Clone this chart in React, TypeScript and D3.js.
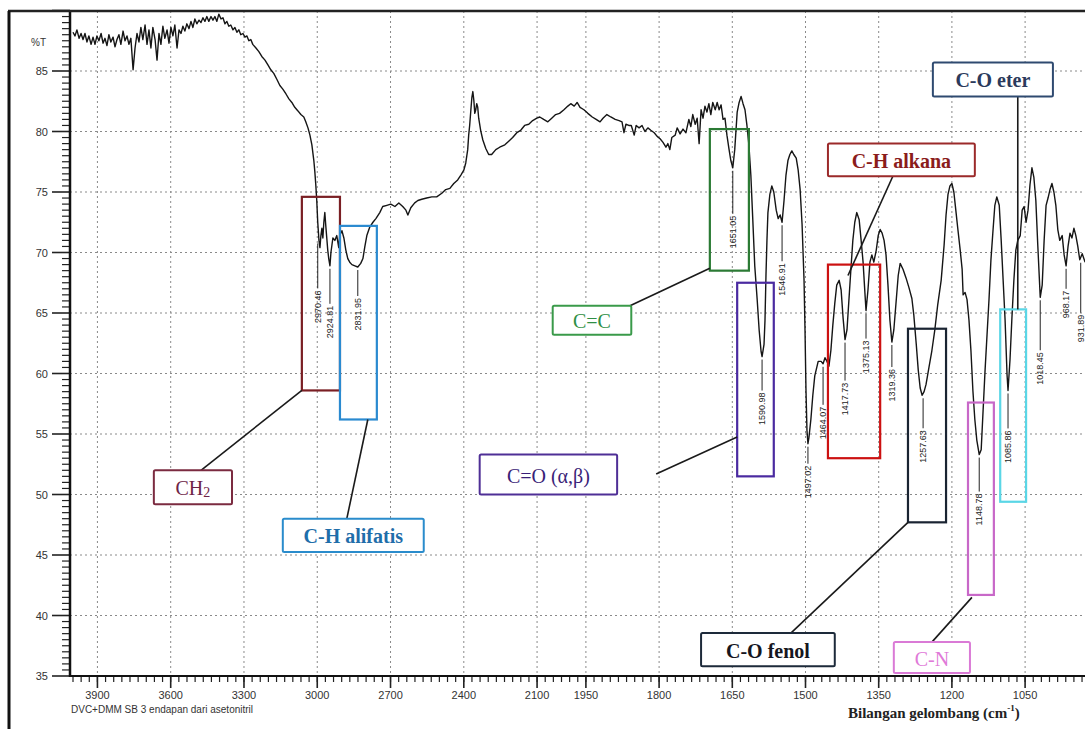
import React, { useEffect, useRef } from 'react';
import * as d3 from 'd3';

// spectrum (cm-1, %T)
const wavenumber = [
  4000, 3992, 3984, 3975, 3967, 3959, 3951, 3943, 3935, 3926, 3918, 3910, 3902, 3894, 3885, 3877, 3869, 3861, 3853, 3845,
  3836, 3828, 3820, 3812, 3804, 3795, 3787, 3779, 3771, 3763, 3754, 3746, 3738, 3730, 3722, 3714, 3705, 3697, 3689, 3681,
  3673, 3664, 3656, 3648, 3640, 3632, 3624, 3615, 3607, 3599, 3591, 3583, 3574, 3566, 3558, 3550, 3542, 3534, 3525, 3517,
  3509, 3501, 3493, 3484, 3476, 3468, 3460, 3452, 3444, 3435, 3427, 3419, 3411, 3403, 3394, 3386, 3378, 3370, 3362, 3354,
  3345, 3337, 3329, 3321, 3313, 3304, 3296, 3288, 3280, 3272, 3264, 3251, 3239, 3227, 3214, 3202, 3190, 3178, 3165, 3153,
  3141, 3128, 3116, 3104, 3092, 3079, 3067, 3055, 3047, 3038, 3030, 3022, 3014, 3010, 3006, 3002, 2998, 2993, 2989, 2985,
  2981, 2977, 2973, 2969, 2965, 2961, 2957, 2953, 2948, 2944, 2940, 2936, 2928, 2920, 2912, 2908, 2899, 2891, 2883, 2875,
  2867, 2858, 2846, 2834, 2822, 2813, 2805, 2797, 2785, 2772, 2760, 2744, 2732, 2715, 2699, 2682, 2666, 2650, 2637, 2629,
  2617, 2601, 2588, 2572, 2552, 2531, 2511, 2490, 2474, 2457, 2441, 2425, 2412, 2400, 2392, 2384, 2380, 2376, 2371, 2367,
  2363, 2359, 2355, 2351, 2347, 2343, 2339, 2331, 2322, 2310, 2298, 2286, 2269, 2253, 2232, 2216, 2200, 2183, 2167, 2151,
  2134, 2118, 2101, 2089, 2073, 2056, 2040, 2024, 2008, 1995, 1987, 1981, 1974, 1968, 1962, 1954, 1946, 1937, 1929, 1921,
  1915, 1907, 1899, 1890, 1882, 1876, 1872, 1868, 1862, 1857, 1851, 1847, 1841, 1835, 1829, 1823, 1817, 1810, 1804, 1798,
  1792, 1786, 1782, 1778, 1774, 1767, 1763, 1757, 1751, 1745, 1739, 1735, 1731, 1726, 1722, 1718, 1714, 1710, 1706, 1702,
  1698, 1694, 1690, 1685, 1681, 1677, 1673, 1669, 1665, 1661, 1657, 1653, 1649, 1645, 1640, 1636, 1632, 1628, 1624, 1620,
  1616, 1612, 1608, 1604, 1599, 1595, 1591, 1589, 1585, 1583, 1581, 1579, 1577, 1573, 1569, 1565, 1560, 1556, 1552, 1548,
  1544, 1540, 1536, 1532, 1528, 1524, 1519, 1515, 1511, 1507, 1503, 1501, 1499, 1497, 1495, 1493, 1489, 1485, 1481, 1474,
  1468, 1464, 1460, 1456, 1452, 1448, 1444, 1440, 1436, 1431, 1427, 1423, 1419, 1415, 1411, 1407, 1403, 1399, 1395, 1390,
  1386, 1382, 1378, 1376, 1372, 1368, 1364, 1360, 1355, 1351, 1347, 1343, 1339, 1335, 1331, 1327, 1323, 1319, 1314, 1310,
  1306, 1300, 1294, 1288, 1282, 1278, 1273, 1269, 1265, 1261, 1257, 1253, 1247, 1241, 1235, 1229, 1222, 1216, 1212, 1208,
  1204, 1200, 1196, 1192, 1188, 1183, 1179, 1177, 1173, 1169, 1165, 1161, 1157, 1153, 1149, 1144, 1140, 1136, 1132, 1128,
  1124, 1120, 1116, 1112, 1108, 1103, 1099, 1095, 1091, 1087, 1085, 1081, 1077, 1073, 1069, 1065, 1060, 1056, 1052, 1048,
  1044, 1040, 1036, 1032, 1028, 1024, 1019, 1015, 1011, 1007, 1003, 999, 995, 991, 987, 983, 979, 974, 970, 966,
  962, 958, 954, 950, 946, 942, 938, 933, 927,
];

const transmittance = [
  88.2, 87.9, 88.4, 87.7, 88.1, 87.6, 88.1, 87.4, 87.9, 87.2, 87.8, 87.2, 87.9, 87.5, 88.1, 87.3, 87.7, 87.1, 88.0, 87.4,
  87.8, 87.0, 87.6, 88.0, 87.2, 88.3, 87.5, 87.9, 87.2, 87.7, 85.1, 86.9, 88.1, 87.4, 88.6, 87.6, 88.8, 87.2, 88.4, 86.9,
  88.6, 87.6, 85.9, 88.1, 87.2, 88.7, 87.7, 88.4, 87.3, 88.6, 87.9, 88.8, 86.9, 88.4, 88.1, 88.7, 88.3, 88.9, 88.5, 89.1,
  88.6, 89.3, 88.9, 89.2, 89.0, 89.4, 89.1, 89.5, 89.1, 89.5, 89.2, 89.5, 89.1, 89.7, 89.3, 89.4, 88.9, 89.1, 88.7, 88.8,
  88.4, 88.6, 88.2, 88.4, 88.0, 88.1, 87.8, 87.9, 87.5, 87.6, 87.2, 86.9, 86.6, 86.2, 85.9, 85.5, 85.1, 84.8, 84.3, 83.8,
  83.5, 83.1, 82.7, 82.4, 82.0, 81.7, 81.4, 81.2, 80.8, 80.3, 79.7, 78.9, 77.6, 76.7, 75.6, 74.3, 72.5, 71.0, 70.4, 71.4,
  72.0, 71.2, 72.5, 73.3, 72.2, 71.2, 70.2, 69.5, 68.9, 70.0, 70.6, 71.2, 71.0, 71.4, 70.4, 71.4, 71.8, 71.2, 70.2, 69.5,
  69.2, 69.0, 68.9, 68.8, 69.1, 69.5, 70.5, 71.4, 72.1, 72.5, 72.8, 73.3, 73.8, 73.9, 74.0, 73.8, 74.1, 73.8, 73.5, 73.1,
  73.7, 74.1, 74.3, 74.4, 74.5, 74.6, 74.6, 74.9, 75.2, 75.3, 75.7, 76.0, 76.4, 76.8, 77.4, 78.5, 79.7, 80.5, 81.8, 82.8,
  83.3, 82.6, 81.5, 81.8, 82.3, 82.0, 81.1, 80.1, 79.3, 78.6, 78.1, 78.1, 78.5, 78.7, 78.9, 79.2, 79.5, 79.9, 80.1, 80.5,
  80.6, 80.9, 81.1, 81.2, 81.0, 80.8, 81.1, 81.4, 81.5, 81.8, 82.1, 82.3, 82.1, 82.4, 82.0, 81.8, 81.5, 81.2, 81.0, 80.8,
  81.1, 81.4, 81.2, 81.0, 80.9, 80.8, 79.9, 80.6, 80.5, 80.5, 79.7, 80.5, 80.3, 80.5, 80.0, 80.3, 80.1, 79.9, 79.6, 79.4,
  79.1, 78.7, 79.0, 78.5, 79.5, 79.7, 80.3, 79.8, 80.2, 79.9, 81.0, 80.4, 81.4, 80.6, 81.1, 79.0, 81.8, 81.1, 82.1, 81.6,
  82.3, 81.4, 82.4, 81.8, 82.4, 81.8, 82.2, 81.0, 81.1, 79.7, 78.6, 77.6, 77.0, 78.5, 81.6, 82.4, 82.9, 82.3, 81.8, 80.5,
  78.9, 76.4, 72.7, 68.9, 66.1, 63.6, 61.8, 61.4, 62.4, 64.4, 68.1, 71.0, 73.3, 74.8, 75.5, 75.0, 73.5, 72.8, 73.1, 72.5,
  74.3, 76.4, 77.6, 78.1, 78.4, 78.1, 77.8, 76.8, 75.2, 72.3, 67.7, 63.6, 58.6, 55.3, 54.2, 54.7, 56.2, 58.2, 59.8, 61.0,
  61.0, 60.8, 61.3, 61.0, 60.6, 61.9, 64.0, 65.8, 67.3, 67.7, 66.9, 64.6, 62.8, 63.6, 66.1, 68.6, 71.0, 72.5, 73.3, 72.7,
  71.0, 69.2, 66.5, 65.2, 66.9, 69.2, 69.8, 69.2, 70.2, 71.4, 71.9, 71.6, 71.0, 69.8, 67.3, 64.4, 62.6, 63.6, 66.1, 68.1,
  69.1, 68.6, 67.9, 67.1, 66.2, 64.8, 62.4, 60.3, 58.8, 58.2, 58.5, 59.1, 60.5, 61.9, 63.6, 65.7, 67.7, 70.6, 73.1, 74.8,
  75.5, 75.7, 75.0, 73.5, 72.0, 70.2, 68.6, 66.5, 66.7, 66.1, 64.4, 61.9, 58.6, 56.2, 54.5, 53.3, 53.7, 57.0, 60.3, 63.2,
  66.1, 69.4, 71.7, 73.9, 74.6, 73.9, 71.0, 67.7, 64.4, 59.9, 58.6, 61.1, 64.6, 67.7, 70.2, 71.0, 71.4, 73.5, 73.8, 72.5,
  73.5, 75.6, 77.0, 76.2, 74.3, 70.6, 66.3, 67.3, 71.0, 73.9, 74.5, 75.2, 75.7, 75.0, 73.9, 71.9, 71.0, 71.4, 69.8, 68.9,
  70.5, 71.6, 71.2, 72.0, 71.4, 70.5, 69.4, 69.9, 69.2,
];

const yMajorTicks = [85, 80, 75, 70, 65, 60, 55, 50, 45, 40, 35];
const xMajorTicks = [3900, 3600, 3300, 3000, 2700, 2400, 2100, 1950, 1800, 1650, 1500, 1350, 1200, 1050];

// peak picks
const peakWavenumbers = [2998, 2948, 2834, 1649, 1589, 1548, 1495, 1464, 1419, 1376, 1323, 1259, 1144, 1085, 1019, 966, 936];
const peakLabels = [
  '2970.46', '2924.81', '2831.95', '1651.05', '1590.98', '1546.91', '1497.02', '1464.07', '1417.73',
  '1375.13', '1319.36', '1257.63', '1148.78', '1085.86', '1018.45', '968.17', '931.89',
];
// stem length under each pick, px
const peakStem = [45, 35, 26, 43, 31, 36, 17, 38, 38, 25, 22, 30, 34, 35, 50, 20, 50];

// functional group annotations
const groupNames = ['CH₂', 'C-H alifatis', 'C=C', 'C=O (α,β)', 'C-H alkana', 'C-O fenol', 'C-N', 'C-O eter'];
const groupBold = [false, true, false, false, true, true, false, true];
const groupBoxColors = ['#7a1f24', '#2a8ad0', '#2b7a34', '#4a2aa0', '#cc1111', '#1a2432', '#c868c8', '#5ad6e6'];
const groupLabelStroke = ['#7b2b40', '#2a8ccc', '#3a9a4a', '#4f2f96', '#9b2a2a', '#1d2a3a', '#da7ad6', '#2f4a70'];
const groupTextColors = ['#6e2346', '#1f6eaa', '#2f8f45', '#3a1e78', '#8b1c1c', '#16161e', '#e07ad8', '#2b3a5c'];
const groupBoxWn = [[3063, 2907], [2907, 2756], [1696, 1616], [1640, 1565], [1454, 1347], [1290, 1212], [1167, 1114], [1101, 1048]];
const groupBoxT = [[74.6, 58.6], [72.2, 56.2], [80.2, 68.5], [67.5, 51.5], [69.0, 53.0], [63.7, 47.7], [57.6, 41.7], [65.3, 49.4]];
const labelBoxWn = [[3669, 3349], [3141, 2564], [2036, 1857], [2335, 1886], [1454, 1153], [1714, 1440], [1319, 1163], [1239, 993]];
const labelBoxT = [[52.0, 49.2], [48.0, 45.25], [65.6, 63.2], [53.3, 50.0], [79.0, 76.3], [38.55, 35.8], [37.8, 35.25], [85.7, 82.9]];
const connectorFrom = [[3476, 52.0], [2879, 48.0], [1865, 65.5], [1806, 51.7], [1321, 76.3], [1530, 38.55], [1241, 37.8], [1065, 82.9]];
const connectorTo = [[3063, 58.6], [2793, 56.2], [1696, 68.7], [1640, 54.75], [1413, 68.1], [1290, 47.7], [1159, 41.5], [1065, 65.3]];

export default function App() {
  const ref = useRef<SVGSVGElement | null>(null);

  useEffect(() => {
    const svg = d3.select(ref.current);
    svg.selectAll('*').remove();

    const width = 1085;
    const height = 729;
    const plotLeft = 70;
    const plotTop = 11;
    const plotBottom = 676;

    // wavenumber axis is compressed above 2000 cm-1
    const x = d3.scaleLinear().domain([4000, 2000, 900]).range([73, 561.5, 1098.3]);
    const y = d3.scaleLinear().domain([35, 90]).range([plotBottom, 10.5]);

    svg.append('rect').attr('width', width).attr('height', height).attr('fill', 'white');

    const defs = svg.append('defs');
    defs
      .append('clipPath')
      .attr('id', 'plot-clip')
      .append('rect')
      .attr('x', plotLeft)
      .attr('y', plotTop)
      .attr('width', width - plotLeft)
      .attr('height', plotBottom - plotTop);

    // grid
    const grid = svg.append('g').attr('class', 'grid');
    grid
      .selectAll('line.h')
      .data(yMajorTicks.filter((t) => t > 35))
      .enter()
      .append('line')
      .attr('x1', plotLeft)
      .attr('x2', width)
      .attr('y1', (d) => y(d))
      .attr('y2', (d) => y(d))
      .style('stroke', '#8a8a8a')
      .style('stroke-width', 1)
      .style('stroke-dasharray', '2,3');
    grid
      .selectAll('line.v')
      .data(xMajorTicks)
      .enter()
      .append('line')
      .attr('x1', (d) => x(d))
      .attr('x2', (d) => x(d))
      .attr('y1', plotTop)
      .attr('y2', plotBottom)
      .style('stroke', '#8a8a8a')
      .style('stroke-width', 1)
      .style('stroke-dasharray', '2,3');

    // spectrum
    const points = wavenumber.map((w, i) => [w, transmittance[i]] as [number, number]);
    const line = d3
      .line<[number, number]>()
      .x((d) => x(d[0]))
      .y((d) => y(d[1]));
    svg
      .append('path')
      .datum(points)
      .attr('clip-path', 'url(#plot-clip)')
      .attr('d', line)
      .style('fill', 'none')
      .style('stroke', '#151515')
      .style('stroke-width', 1.4)
      .style('stroke-linejoin', 'round');

    // peak picks
    const minNear = (w: number) => {
      const near = points.filter((p) => Math.abs(p[0] - w) <= 5);
      return d3.min(near, (p) => p[1]) ?? 60;
    };
    const peaks = svg.append('g').attr('class', 'peaks').attr('clip-path', 'url(#plot-clip)');
    peakWavenumbers.forEach((w, i) => {
      const yStart = y(minNear(w)) + 3;
      const stem = peakStem[i];
      peaks
        .append('line')
        .attr('x1', x(w))
        .attr('x2', x(w))
        .attr('y1', yStart)
        .attr('y2', yStart + stem)
        .style('stroke', '#222')
        .style('stroke-width', 1);
      peaks
        .append('text')
        .attr('transform', `translate(${x(w)},${yStart + stem + 2}) rotate(-90)`)
        .attr('text-anchor', 'end')
        .attr('dominant-baseline', 'central')
        .style('font-family', 'Liberation Sans, Arial, sans-serif')
        .style('font-size', '9px')
        .style('fill', '#222')
        .text(peakLabels[i]);
    });

    // group boxes on the spectrum
    const groups = svg.append('g').attr('class', 'groups');
    groupNames.forEach((name, i) => {
      const [w0, w1] = groupBoxWn[i];
      const [t0, t1] = groupBoxT[i];
      groups
        .append('rect')
        .attr('x', x(w0))
        .attr('y', y(t0))
        .attr('width', x(w1) - x(w0))
        .attr('height', y(t1) - y(t0))
        .style('fill', 'none')
        .style('stroke', groupBoxColors[i])
        .style('stroke-width', 2.2);

      groups
        .append('line')
        .attr('x1', x(connectorFrom[i][0]))
        .attr('y1', y(connectorFrom[i][1]))
        .attr('x2', x(connectorTo[i][0]))
        .attr('y2', y(connectorTo[i][1]))
        .style('stroke', '#1a1a1a')
        .style('stroke-width', 1.6);

      const [lw0, lw1] = labelBoxWn[i];
      const [lt0, lt1] = labelBoxT[i];
      const bx = x(lw0);
      const by = y(lt0);
      const bw = x(lw1) - x(lw0);
      const bh = y(lt1) - y(lt0);
      groups
        .append('rect')
        .attr('x', bx)
        .attr('y', by)
        .attr('width', bw)
        .attr('height', bh)
        .attr('rx', 1.5)
        .style('fill', 'white')
        .style('stroke', groupLabelStroke[i])
        .style('stroke-width', 2);

      const txt = groups
        .append('text')
        .attr('x', bx + bw / 2)
        .attr('y', by + bh / 2 + 1)
        .attr('text-anchor', 'middle')
        .attr('dominant-baseline', 'central')
        .style('font-family', 'Liberation Serif, Times New Roman, serif')
        .style('font-size', '20px')
        .style('font-weight', groupBold[i] ? 'bold' : 'normal')
        .style('fill', groupTextColors[i]);
      if (name.includes('₂')) {
        txt.append('tspan').text(name.replace('₂', ''));
        txt.append('tspan').attr('dy', 4).style('font-size', '14px').text('2');
      } else {
        txt.text(name);
      }
    });

    // axes
    const axes = svg.append('g').attr('class', 'axes');
    const yMinor = d3.range(35, 90.01, 0.5);
    axes
      .selectAll('line.ym')
      .data(yMinor)
      .enter()
      .append('line')
      .attr('x1', (d) => (d % 5 === 0 ? plotLeft - 18 : plotLeft - 8))
      .attr('x2', plotLeft)
      .attr('y1', (d) => y(d))
      .attr('y2', (d) => y(d))
      .style('stroke', '#222')
      .style('stroke-width', (d) => (d % 5 === 0 ? 1.6 : 1.2));
    axes
      .selectAll('text.yl')
      .data(yMajorTicks)
      .enter()
      .append('text')
      .attr('x', plotLeft - 22)
      .attr('y', (d) => y(d))
      .attr('text-anchor', 'end')
      .attr('dominant-baseline', 'central')
      .style('font-family', 'Liberation Sans, Arial, sans-serif')
      .style('font-size', '11px')
      .style('fill', '#333')
      .text((d) => d);
    axes
      .append('text')
      .attr('x', plotLeft - 24)
      .attr('y', 42)
      .attr('text-anchor', 'end')
      .attr('dominant-baseline', 'central')
      .style('font-family', 'Liberation Sans, Arial, sans-serif')
      .style('font-size', '10px')
      .style('fill', '#333')
      .text('%T');

    const xMinor = [
      ...d3.range(0, 61).map((k) => 4000 - (k * 100) / 3),
      ...d3.range(1, 70).map((k) => 2000 - (k * 50) / 3),
    ].filter((w) => x(w) >= plotLeft && x(w) <= width);
    axes
      .selectAll('line.xm')
      .data(xMinor)
      .enter()
      .append('line')
      .attr('x1', (d) => x(d))
      .attr('x2', (d) => x(d))
      .attr('y1', plotBottom)
      .attr('y2', plotBottom + 6)
      .style('stroke', '#222')
      .style('stroke-width', 1.2);
    axes
      .selectAll('line.xM')
      .data(xMajorTicks)
      .enter()
      .append('line')
      .attr('x1', (d) => x(d))
      .attr('x2', (d) => x(d))
      .attr('y1', plotBottom)
      .attr('y2', plotBottom + 12)
      .style('stroke', '#222')
      .style('stroke-width', 1.6);
    axes
      .selectAll('text.xl')
      .data(xMajorTicks)
      .enter()
      .append('text')
      .attr('x', (d) => x(d))
      .attr('y', plotBottom + 19)
      .attr('text-anchor', 'middle')
      .attr('dominant-baseline', 'central')
      .style('font-family', 'Liberation Sans, Arial, sans-serif')
      .style('font-size', '11px')
      .style('fill', '#333')
      .text((d) => d);

    axes
      .append('line')
      .attr('x1', plotLeft)
      .attr('x2', plotLeft)
      .attr('y1', plotTop)
      .attr('y2', plotBottom + 1)
      .style('stroke', '#111')
      .style('stroke-width', 2.5);
    axes
      .append('line')
      .attr('x1', plotLeft)
      .attr('x2', width)
      .attr('y1', plotBottom)
      .attr('y2', plotBottom)
      .style('stroke', '#111')
      .style('stroke-width', 2);

    svg
      .append('text')
      .attr('x', 71)
      .attr('y', 709)
      .attr('dominant-baseline', 'central')
      .style('font-family', 'Liberation Sans, Arial, sans-serif')
      .style('font-size', '10px')
      .style('fill', '#333')
      .text('DVC+DMM SB 3 endapan dari asetonitril');

    const xt = svg
      .append('text')
      .attr('x', 848)
      .attr('y', 713)
      .attr('dominant-baseline', 'central')
      .style('font-family', 'Liberation Serif, Times New Roman, serif')
      .style('font-size', '15px')
      .style('font-weight', 'bold')
      .style('fill', '#222');
    xt.append('tspan').text('Bilangan gelombang (cm');
    xt.append('tspan').attr('dy', -5).style('font-size', '9px').text('-1');
    xt.append('tspan').attr('dy', 5).text(')');

    // screenshot frame
    svg
      .append('line')
      .attr('x1', 8)
      .attr('x2', width)
      .attr('y1', plotTop)
      .attr('y2', plotTop)
      .style('stroke', '#222')
      .style('stroke-width', 2.5);
    svg
      .append('line')
      .attr('x1', 9)
      .attr('x2', 9)
      .attr('y1', plotTop)
      .attr('y2', height)
      .style('stroke', '#111')
      .style('stroke-width', 3);
  }, []);

  return (
    <svg
      ref={ref}
      width={1085}
      height={729}
      style={{ position: 'absolute', left: 0, top: 0, display: 'block' }}
    />
  );
}
